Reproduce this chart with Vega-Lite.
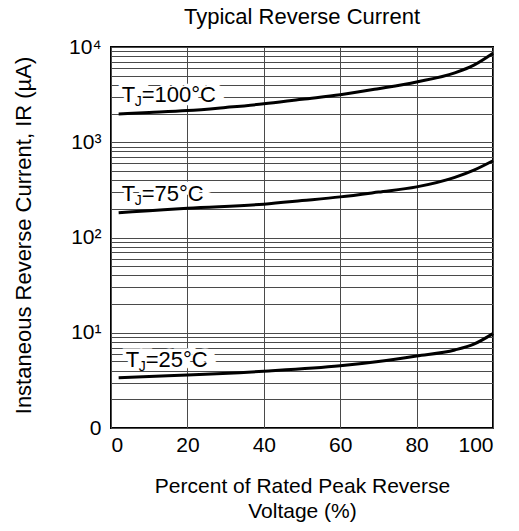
{
  "$schema": "https://vega.github.io/schema/vega-lite/v6.json",
  "width": 382,
  "height": 381,
  "autosize": {"type": "none"},
  "padding": {"left": 111, "top": 47, "right": 26, "bottom": 103},
  "background": "white",
  "config": {
    "font": "Liberation Sans",
    "view": {"stroke": "black", "strokeWidth": 2},
    "axis": {"labelColor": "black", "titleColor": "black", "titleFontWeight": "normal", "domain": false, "ticks": false, "tickSize": 0, "gridColor": "#4a4a4a", "gridOpacity": 1, "gridWidth": 1}
  },
  "title": {"text": "Typical Reverse Current", "fontSize": 22, "fontWeight": "normal", "color": "black", "frame": "group", "anchor": "middle", "baseline": "bottom", "offset": 15, "dy": 30},
  "datasets": {
    "curves": [
      {"t": "100", "v": 2, "i": 1980}, {"t": "100", "v": 10, "i": 2050}, {"t": "100", "v": 20, "i": 2150}, {"t": "100", "v": 30, "i": 2320}, {"t": "100", "v": 40, "i": 2530}, {"t": "100", "v": 50, "i": 2830}, {"t": "100", "v": 60, "i": 3150}, {"t": "100", "v": 70, "i": 3650}, {"t": "100", "v": 80, "i": 4300}, {"t": "100", "v": 90, "i": 5350}, {"t": "100", "v": 95, "i": 6450}, {"t": "100", "v": 100, "i": 8600},
      {"t": "75", "v": 2, "i": 182}, {"t": "75", "v": 10, "i": 191}, {"t": "75", "v": 20, "i": 203}, {"t": "75", "v": 40, "i": 224}, {"t": "75", "v": 50, "i": 244}, {"t": "75", "v": 60, "i": 267}, {"t": "75", "v": 70, "i": 300}, {"t": "75", "v": 80, "i": 340}, {"t": "75", "v": 90, "i": 428}, {"t": "75", "v": 95, "i": 510}, {"t": "75", "v": 100, "i": 640},
      {"t": "25", "v": 2, "i": 3.37}, {"t": "25", "v": 10, "i": 3.48}, {"t": "25", "v": 20, "i": 3.6}, {"t": "25", "v": 40, "i": 3.95}, {"t": "25", "v": 60, "i": 4.5}, {"t": "25", "v": 70, "i": 5.0}, {"t": "25", "v": 80, "i": 5.7}, {"t": "25", "v": 90, "i": 6.6}, {"t": "25", "v": 95, "i": 7.6}, {"t": "25", "v": 100, "i": 9.8}
    ],
    "labels": [
      {"full": "TJ=100°C", "rest": "=100°C", "v": 2.8, "i": 3130},
      {"full": "TJ=75°C", "rest": "=75°C", "v": 2.8, "i": 286},
      {"full": "TJ=25°C", "rest": "=25°C", "v": 3.85, "i": 5.18}
    ]
  },
  "encoding": {
    "x": {"field": "v", "type": "quantitative", "scale": {"domain": [0, 100], "nice": false},
      "axis": {"values": [0, 20, 40, 60, 80, 100], "labelFontSize": 21, "labelPadding": 6, "grid": true,
        "title": ["Percent of Rated Peak Reverse", "Voltage (%)"], "titleFontSize": 21, "titleLineHeight": 25, "titlePadding": 20}},
    "y": {"field": "i", "type": "quantitative", "scale": {"type": "log", "domain": [1, 10000], "nice": false},
      "axis": {"values": [1,2,3,4,5,6,7,8,9,10,20,30,40,50,60,70,80,90,100,200,300,400,500,600,700,800,900,1000,2000,3000,4000,5000,6000,7000,8000,9000,10000],
        "labelExpr": "datum.value == 1 ? '0' : datum.value == 10 ? '10¹' : datum.value == 100 ? '10²' : datum.value == 1000 ? '10³' : datum.value == 10000 ? '10⁴' : ''",
        "labelFontSize": 21, "labelPadding": 10, "labelBaseline": "middle", "grid": true,
        "title": "Instaneous Reverse Current, IR (µA)", "titleFontSize": 22, "titlePadding": 33, "titleY": 188}}
  },
  "layer": [
    {"data": {"name": "curves"}, "mark": {"type": "line", "color": "black", "strokeWidth": 3, "interpolate": "monotone"}, "encoding": {"detail": {"field": "t"}}},
    {"data": {"name": "labels"}, "mark": {"type": "text", "align": "left", "baseline": "middle", "fontSize": 22, "fill": "white", "stroke": "white", "strokeWidth": 7}, "encoding": {"text": {"field": "full"}}},
    {"data": {"name": "labels"}, "mark": {"type": "text", "align": "left", "baseline": "middle", "fontSize": 22, "color": "black", "text": "T"}},
    {"data": {"name": "labels"}, "mark": {"type": "text", "align": "left", "baseline": "middle", "fontSize": 14, "color": "black", "text": "J", "dx": 13, "dy": 7}},
    {"data": {"name": "labels"}, "mark": {"type": "text", "align": "left", "baseline": "middle", "fontSize": 22, "color": "black", "dx": 20}, "encoding": {"text": {"field": "rest"}}}
  ]
}
